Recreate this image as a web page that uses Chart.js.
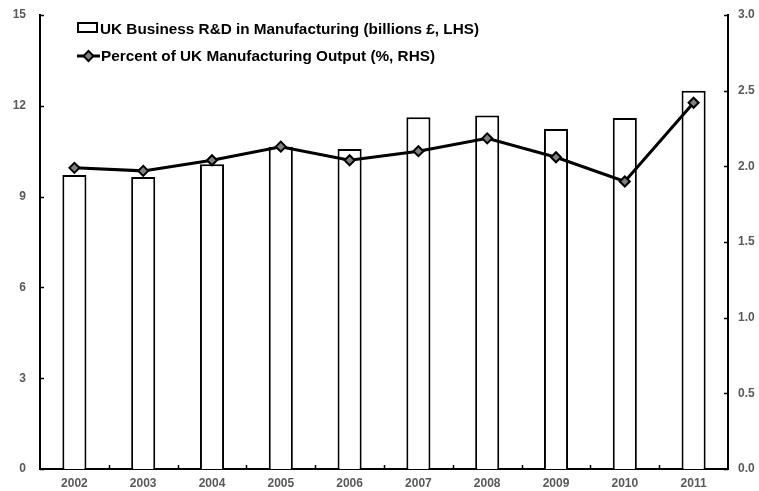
<!DOCTYPE html>
<html>
<head>
<meta charset="utf-8">
<script src="https://cdn.jsdelivr.net/npm/chart.js@4/dist/chart.umd.min.js"></script>
<style>
html,body{margin:0;padding:0;background:#fff;}
#wrap{position:relative;width:759px;height:491px;}
</style>
</head>
<body>
<div id="wrap"><canvas id="c" width="759" height="491"></canvas></div>
<script>
const years = ['2002','2003','2004','2005','2006','2007','2008','2009','2010','2011'];
const rdBillions = [9.71, 9.65, 10.07, 10.65, 10.57, 11.62, 11.68, 11.23, 11.60, 12.50];
const pctOutput = [1.99, 1.97, 2.04, 2.13, 2.04, 2.10, 2.185, 2.06, 1.90, 2.42];
const leftTicks = [0, 3, 6, 9, 12, 15];
const rightTicks = [0.0, 0.5, 1.0, 1.5, 2.0, 2.5, 3.0];
const barLabel = 'UK Business R&D in Manufacturing (billions £, LHS)';
const lineLabel = 'Percent of UK Manufacturing Output (%, RHS)';

const FONT = '"Liberation Sans", Arial, sans-serif';
const TICKCOL = '#595959';

const innerTicks = {
  id: 'innerTicks',
  afterDatasetsDraw(chart) {
    const ctx = chart.ctx, a = chart.chartArea;
    ctx.save();
    ctx.strokeStyle = '#000';
    ctx.lineWidth = 1.5;
    const yl = chart.scales.y, yr = chart.scales.y2, x = chart.scales.x;
    yl.ticks.forEach(t => {
      const p = Math.round(yl.getPixelForValue(t.value)) + 0.5;
      ctx.beginPath(); ctx.moveTo(a.left, p); ctx.lineTo(a.left + 4, p); ctx.stroke();
    });
    yr.ticks.forEach(t => {
      const p = Math.round(yr.getPixelForValue(t.value)) + 0.5;
      ctx.beginPath(); ctx.moveTo(a.right, p); ctx.lineTo(a.right - 4, p); ctx.stroke();
    });
    for (let i = 1; i < years.length; i++) {
      const p = Math.round((x.getPixelForValue(i - 1) + x.getPixelForValue(i)) / 2) + 0.5;
      ctx.beginPath(); ctx.moveTo(p, a.bottom); ctx.lineTo(p, a.bottom - 4); ctx.stroke();
    }
    ctx.restore();
  }
};

const customLegend = {
  id: 'customLegend',
  afterDraw(chart) {
    const ctx = chart.ctx;
    ctx.save();
    ctx.font = 'bold 15.3px ' + FONT;
    ctx.textBaseline = 'alphabetic';
    ctx.fillStyle = '#fff';
    ctx.fillRect(78, 23, 19, 9);
    ctx.strokeStyle = '#000';
    ctx.lineWidth = 2;
    ctx.strokeRect(78, 23, 19, 9);
    ctx.fillStyle = '#000';
    ctx.fillText(barLabel, 100, 33.5);
    ctx.lineWidth = 3;
    ctx.beginPath(); ctx.moveTo(77, 56); ctx.lineTo(100, 56); ctx.stroke();
    ctx.beginPath();
    ctx.moveTo(88.5, 51); ctx.lineTo(93.5, 56); ctx.lineTo(88.5, 61); ctx.lineTo(83.5, 56); ctx.closePath();
    ctx.fillStyle = '#808080'; ctx.fill();
    ctx.lineWidth = 2; ctx.stroke();
    ctx.fillStyle = '#000';
    ctx.fillText(lineLabel, 101, 61);
    ctx.restore();
  }
};

function fixV(w) {
  return function (s) { s.width = w; s.paddingTop = 0; s.paddingBottom = 0; };
}

new Chart(document.getElementById('c'), {
  data: {
    labels: years,
    datasets: [
      {
        type: 'line', label: lineLabel, data: pctOutput, yAxisID: 'y2', order: 0,
        borderColor: '#000', borderWidth: 3, tension: 0,
        pointStyle: 'rectRot', pointRadius: 5, pointHoverRadius: 5,
        pointBackgroundColor: '#808080', pointBorderColor: '#000', pointBorderWidth: 2
      },
      {
        type: 'bar', label: barLabel, data: rdBillions, yAxisID: 'y', order: 1,
        backgroundColor: '#fff', borderColor: '#000', borderWidth: 2,
        categoryPercentage: 1.0, barPercentage: 0.35
      }
    ]
  },
  options: {
    responsive: false,
    animation: false,
    devicePixelRatio: 1,
    layout: { padding: { top: 15, left: 0, right: 0, bottom: 0 } },
    plugins: { legend: { display: false }, tooltip: { enabled: false } },
    scales: {
      x: {
        grid: { display: false, drawTicks: false },
        border: { color: '#000', width: 2 },
        ticks: { color: TICKCOL, font: { family: FONT, size: 12, weight: 'bold' }, padding: 7, maxRotation: 0 },
        afterFit(s) { s.height = 22; s.paddingLeft = 0; s.paddingRight = 0; }
      },
      y: {
        position: 'left', min: 0, max: 15,
        afterBuildTicks(s) { s.ticks = leftTicks.map(v => ({ value: v })); },
        grid: { display: false, drawTicks: false },
        border: { color: '#000', width: 2 },
        ticks: { color: TICKCOL, font: { family: FONT, size: 12, weight: 'bold' }, padding: 14 },
        afterFit: fixV(40)
      },
      y2: {
        position: 'right', min: 0, max: 3,
        afterBuildTicks(s) { s.ticks = rightTicks.map(v => ({ value: v })); },
        grid: { display: false, drawTicks: false },
        border: { color: '#000', width: 2 },
        ticks: { color: TICKCOL, font: { family: FONT, size: 12, weight: 'bold' }, padding: 10,
                 callback: v => Number(v).toFixed(1) },
        afterFit: fixV(31)
      }
    }
  },
  plugins: [innerTicks, customLegend]
});
</script>
</body>
</html>
